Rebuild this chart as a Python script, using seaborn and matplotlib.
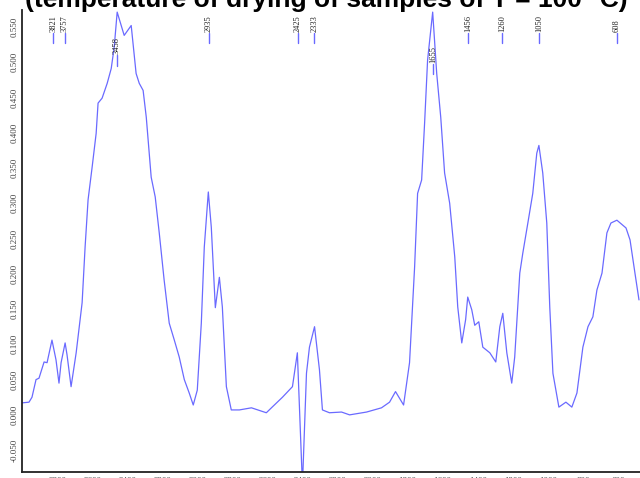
import matplotlib
matplotlib.use("Agg")
import matplotlib.pyplot as plt
import seaborn as sns
import pandas as pd
import numpy as np

# Spectrum (wavenumber, absorbance)
wavenumber = [4000, 3960, 3943, 3920, 3903, 3874, 3857, 3829, 3806, 3789, 3777, 3754,
              3743, 3720, 3691, 3657, 3640, 3623, 3600, 3577, 3566, 3543, 3514, 3491,
              3474, 3457, 3417, 3377, 3349, 3331, 3309, 3291, 3263, 3240, 3217, 3189,
              3160, 3131, 3103, 3074, 3046, 3023, 3000, 2977, 2960, 2937, 2920, 2897,
              2874, 2857, 2834, 2806, 2760, 2691, 2606, 2577, 2514, 2457, 2429, 2400,
              2377, 2360, 2331, 2303, 2286, 2246, 2177, 2131, 2034, 1949, 1903, 1869,
              1823, 1789, 1760, 1743, 1720, 1703, 1686, 1657, 1634, 1611, 1589, 1560,
              1531, 1514, 1491, 1469, 1457, 1434, 1417, 1394, 1371, 1331, 1297, 1274,
              1257, 1234, 1206, 1189, 1160, 1143, 1114, 1086, 1063, 1051, 1029, 1006,
              989, 971, 937, 897, 863, 834, 800, 771, 743, 720, 691, 663, 640, 606,
              554, 531, 503, 480]
absorbance = [0.017, 0.018, 0.025, 0.050, 0.052, 0.075, 0.074, 0.106, 0.078, 0.045, 0.074, 0.102,
              0.085, 0.040, 0.088, 0.159, 0.238, 0.305, 0.351, 0.399, 0.442, 0.449, 0.470, 0.491,
              0.521, 0.571, 0.538, 0.552, 0.484, 0.470, 0.460, 0.422, 0.337, 0.309, 0.258, 0.191,
              0.130, 0.106, 0.082, 0.050, 0.031, 0.014, 0.035, 0.130, 0.238, 0.316, 0.266, 0.152,
              0.195, 0.153, 0.040, 0.007, 0.007, 0.010, 0.003, 0.010, 0.025, 0.040, 0.088, -0.100,
              0.059, 0.096, 0.125, 0.064, 0.007, 0.003, 0.004, 0.000, 0.004, 0.010, 0.018, 0.033,
              0.014, 0.074, 0.210, 0.314, 0.333, 0.414, 0.503, 0.571, 0.484, 0.422, 0.343, 0.300,
              0.224, 0.153, 0.102, 0.135, 0.167, 0.149, 0.127, 0.132, 0.096, 0.088, 0.075, 0.125,
              0.144, 0.088, 0.045, 0.082, 0.201, 0.229, 0.272, 0.314, 0.371, 0.382, 0.343, 0.272,
              0.153, 0.059, 0.011, 0.018, 0.011, 0.031, 0.096, 0.125, 0.139, 0.177, 0.201, 0.258,
              0.272, 0.276, 0.265, 0.248, 0.201, 0.163]

# Peak labels
peak_labels = ["3821", "3757", "3458", "2935", "2425", "2333", "1655", "1456", "1260", "1050", "608"]
peak_positions = [3821, 3757, 3458, 2935, 2425, 2333, 1655, 1456, 1260, 1050, 608]
peak_label_level = [0.542, 0.542, 0.510, 0.542, 0.542, 0.542, 0.498, 0.542, 0.542, 0.542, 0.542]

y_ticks = [-0.05, 0.0, 0.05, 0.1, 0.15, 0.2, 0.25, 0.3, 0.35, 0.4, 0.45, 0.5, 0.55]
x_ticks = [3800, 3600, 3400, 3200, 3000, 2800, 2600, 2400, 2200, 2000, 1800, 1600,
           1400, 1200, 1000, 800, 600]

title_text = "(temperature of drying of samples of T = 100 \u00b0C)"

sns.set_theme(style="white")
plt.rcParams['font.family'] = ['Liberation Sans', 'DejaVu Sans']

fig = plt.figure(figsize=(6.4, 4.78), dpi=100)
ax = fig.add_axes([22 / 640, 6 / 478, 631 / 640, 462 / 478])

df = pd.DataFrame({"wavenumber": wavenumber, "absorbance": absorbance})
line_color = "#6a6aff"
sns.lineplot(data=df, x="wavenumber", y="absorbance", ax=ax, color=line_color,
             linewidth=0.9, estimator=None, sort=False)

ax.set_xlim(4000, 400)
ax.set_ylim(-0.081, 0.574)
ax.set_xlabel("")
ax.set_ylabel("")

ax.set_yticks(y_ticks)
ax.set_yticklabels([f"{v:.3f}" for v in y_ticks], rotation=90, va="center",
                   fontsize=6.5, color="#444444", family="Liberation Serif")
ax.set_xticks(x_ticks)
ax.set_xticklabels([str(v) for v in x_ticks], fontsize=6.5, color="#444444",
                   family="Liberation Serif")
ax.tick_params(axis="both", direction="inout", length=3, width=0.6, color="#333333", pad=2)
ax.tick_params(axis="y", pad=1)

for s in ["top", "right"]:
    ax.spines[s].set_visible(False)
for s in ["left", "bottom"]:
    ax.spines[s].set_color("#222222")
    ax.spines[s].set_linewidth(1.3)

# peak markers
for lab, pos, lvl in zip(peak_labels, peak_positions, peak_label_level):
    ax.plot([pos, pos], [lvl - 0.015, lvl], color=line_color, linewidth=1.0)
    ax.text(pos, lvl + 0.001, lab, rotation=90, ha="center", va="bottom",
            fontsize=6, color="#222222", family="Liberation Serif")

fig.text(326 / 640, 1 - 6.5 / 478, title_text, ha="center", va="baseline",
         fontsize=19, fontweight="bold", color="black")

fig.savefig("out.png", dpi=100)
